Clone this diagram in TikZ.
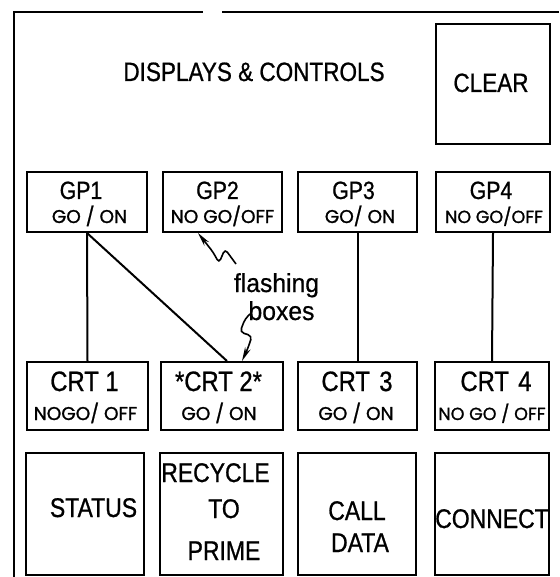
\documentclass[tikz,border=0pt]{standalone}
\usepackage{fontspec}
\setmainfont{Liberation Sans}[FakeStretch=0.85,FakeBold=0.8]
\newfontfamily\statfont{Poppins}[FakeBold=1.2]
\newfontfamily\notefont{Liberation Sans}[FakeStretch=0.95,FakeBold=0.6]
\usetikzlibrary{arrows.meta,calc}
\tikzset{
  box/.style={draw, line width=2pt, inner sep=0pt},
  wire/.style={line width=2pt},
  frame/.style={line width=2pt},
  flash/.style={line width=1.6pt, rounded corners=4pt, -{Stealth[length=14pt,width=6pt]}},
  big/.style={anchor=base, inner sep=0pt, font=\fontsize{26.5}{30}\selectfont},
  gptitle/.style={anchor=base, inner sep=0pt, font=\fontsize{25}{28}\selectfont},
  crttitle/.style={anchor=base, inner sep=0pt, font=\fontsize{28}{32}\selectfont},
  stat/.style={anchor=base, inner sep=0pt, font=\statfont\fontsize{18.5}{22}\selectfont},
  statsm/.style={anchor=base, inner sep=0pt, font=\statfont\fontsize{17.5}{22}\selectfont},
  key/.style={anchor=base, inner sep=0pt, font=\fontsize{27}{32}\selectfont},
  note/.style={anchor=base, inner sep=0pt, font=\notefont\fontsize{26}{30}\selectfont},
}
\begin{document}
\begin{tikzpicture}[x=1pt, y=-1pt]
\useasboundingbox (0,0) rectangle (559,577);

% outer frame
\draw[frame] (14,577) -- (14,12) -- (203,12);
\draw[frame] (222,12) -- (559,12);

% title and clear
\node[big] (title) at (254,81) {DISPLAYS \& CONTROLS};
\node[box, minimum width=114pt, minimum height=120pt] (clear) at (493,84) {};
\node[big] (cleart) at (491,92) {CLEAR};

% GP row
\node[box, minimum width=120pt, minimum height=60pt] (gp1) at (87,202) {};
\node[box, minimum width=119pt, minimum height=60pt] (gp2) at (222.5,202) {};
\node[box, minimum width=119pt, minimum height=60pt] (gp3) at (357.5,202) {};
\node[box, minimum width=114pt, minimum height=60pt] (gp4) at (493,202) {};
\node[gptitle] (gp1t) at (81,199) {GP1};
\node[gptitle] (gp2t) at (217.5,199) {GP2};
\node[gptitle] (gp3t) at (353.5,199) {GP3};
\node[gptitle] (gp4t) at (491,199) {GP4};
\node[stat] (gp1s) at (89.5,223) {GO / ON};
\node[stat] (gp2s) at (222.5,223) {NO GO/OFF};
\node[stat] (gp3s) at (360,223) {GO/ ON};
\node[statsm] (gp4s) at (494,223) {NO GO/OFF};

% CRT row
\node[box, minimum width=121pt, minimum height=68pt] (crt1) at (87.5,396) {};
\node[box, minimum width=122pt, minimum height=68pt] (crt2) at (222,396) {};
\node[box, minimum width=119pt, minimum height=68pt] (crt3) at (357.5,396) {};
\node[box, minimum width=114pt, minimum height=68pt] (crt4) at (492,396) {};
\node[crttitle] (crt1t) at (84.5,391) {CRT 1};
\node[crttitle] (crt2t) at (218.5,391) {*CRT 2*};
\node[crttitle] (crt3t) at (357,391) {CRT\,\,3};
\node[crttitle] (crt4t) at (496,391) {CRT\,\,4};
\node[stat] (crt1s) at (85.5,420) {NOGO/ OFF};
\node[stat] (crt2s) at (219,420) {GO / ON};
\node[stat] (crt3s) at (356,420) {GO / ON};
\node[statsm] (crt4s) at (492,420) {NO GO / OFF};

% bottom row
\node[box, minimum width=118pt, minimum height=122pt] (status) at (85,514) {};
\node[box, minimum width=123pt, minimum height=122pt] (recycle) at (221.5,514) {};
\node[box, minimum width=118pt, minimum height=122pt] (call) at (357,514) {};
\node[box, minimum width=114pt, minimum height=122pt] (connect) at (492,514) {};
\node[key] (statust) at (93.5,517) {STATUS};
\node[key] (rec1) at (215.5,482) {RECYCLE};
\node[key] (rec2) at (224,518) {TO};
\node[key] (rec3) at (224,560) {PRIME};
\node[key] (call1) at (357,520) {CALL};
\node[key] (call2) at (360,552) {DATA};
\node[key] (connectt) at (492,528) {CONNECT};

% connectors
\draw[wire] (gp1.south) -- (crt1.north);
\coordinate (c2in) at ($(crt2.north)+(5,0)$);
\draw[wire] (gp1.south) -- (c2in);
\draw[wire] (gp3.south) -- (crt3.north);
\draw[wire] (gp4.south) -- (crt4.north);

% flashing boxes note
\node[note] (flash1) at (276.5,292) {flashing};
\node[note] (flash2) at (281.5,320) {boxes};
\coordinate (tipa) at ($(gp2.south west)+(36,0)$);
\coordinate (tipb) at ($(crt2.north west)+(82,0)$);
\draw[flash] (236,264) -- (225,249) -- (219,263) -- (213,252) -- (tipa);
\draw[flash] (250,314) -- (245,319) -- (240,332) -- (252,336) -- (248,348) -- (tipb);
\end{tikzpicture}
\end{document}
